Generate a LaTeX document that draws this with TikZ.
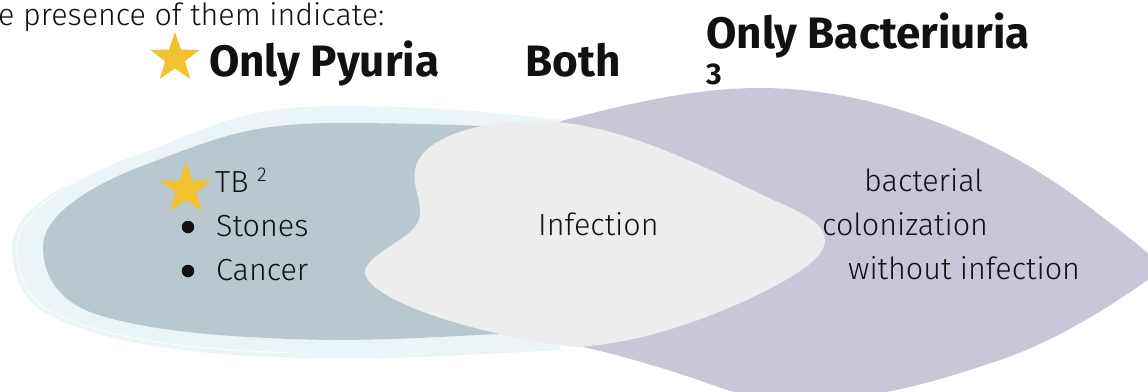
\documentclass[tikz,border=0pt]{standalone}
\usepackage{fontspec}
\setmainfont{Fira Sans Light}[BoldFont=Fira Sans Bold]
\usetikzlibrary{shapes.geometric}
\definecolor{paleblue}{HTML}{EBF4F7}
\definecolor{greyblue}{HTML}{B9C7CE}
\definecolor{lightgrey}{HTML}{EDEDED}
\definecolor{lilac}{HTML}{C8C7D7}
\definecolor{gold}{HTML}{F2C230}
\definecolor{ink}{HTML}{111111}
\tikzset{
  lbl/.style={anchor=base west, inner sep=0pt, text=ink, font=\fontsize{30.5}{36}\selectfont},
  head/.style={anchor=base west, inner sep=0pt, text=ink, font=\fontsize{44}{50}\selectfont\bfseries},
  goldstar/.style={star, star points=5, star point ratio=2.5, fill=gold, draw=none, inner sep=0pt},
  bulletdot/.style={circle, fill=ink, draw=none, inner sep=0pt, minimum size=12.5pt}
}
\begin{document}
\begin{tikzpicture}[x=1pt, y=-1pt]
\useasboundingbox (0,0) rectangle (1148,391);
\begin{scope}
\clip (0,0) rectangle (1148,391);
% purple region (only bacteriuria)
\fill[lilac] (557,122) .. controls (620,106) and (690,88) .. (760,88)
  .. controls (880,88) and (1000,140) .. (1080,200)
  .. controls (1120,230) and (1145,250) .. (1165,268)
  .. controls (1120,300) and (1060,340) .. (1000,360)
  .. controls (940,380) and (880,400) .. (800,400)
  .. controls (760,400) and (740,395) .. (707,383)
  .. controls (670,370) and (620,355) .. (583,347)
  -- (520,250) -- cycle;
% pale outer region (only pyuria)
\fill[paleblue] (12,247) .. controls (12,205) and (80,175) .. (150,150)
  .. controls (220,122) and (250,106) .. (340,106)
  .. controls (420,106) and (500,112) .. (560,120)
  -- (560,350)
  .. controls (450,356) and (380,360) .. (300,358)
  .. controls (180,355) and (90,340) .. (40,310)
  .. controls (20,295) and (12,270) .. (12,247) -- cycle;
\draw[white, line width=0.8pt] (160,146) .. controls (90,170) and (17,205) .. (17,247)
  .. controls (17,272) and (25,295) .. (45,308)
  .. controls (95,337) and (180,350) .. (300,353);
% grey-blue inner region
\fill[greyblue] (43,247) .. controls (43,215) and (90,185) .. (150,163)
  .. controls (220,137) and (250,123) .. (340,123)
  .. controls (420,123) and (480,126) .. (540,128)
  -- (540,332)
  .. controls (450,336) and (400,340) .. (330,340)
  .. controls (220,338) and (140,330) .. (90,312)
  .. controls (55,298) and (43,272) .. (43,247) -- cycle;
% light grey overlap region (both)
\fill[lightgrey] (540,121) .. controls (470,121) and (420,140) .. (415,170)
  .. controls (412,190) and (425,205) .. (418,222)
  .. controls (410,240) and (365,255) .. (365,272)
  .. controls (365,295) and (450,330) .. (573,347)
  .. controls (640,345) and (720,315) .. (773,287)
  .. controls (805,270) and (825,255) .. (825,240)
  .. controls (825,225) and (805,213) .. (773,200)
  .. controls (700,165) and (620,123) .. (540,121) -- cycle;
\end{scope}
% headings
\node[lbl] (intro) at (-2,25) {e presence of them indicate:};
\node[goldstar, minimum size=52pt] (star1) at (175,58) {};
\node[head] (pyuria) at (209,76) {Only Pyuria};
\node[head] (both) at (525,76) {Both};
\node[head] (bact) at (706,48) {Only Bacteriuria};
\node[anchor=base west, inner sep=0pt, text=ink, font=\fontsize{30}{34}\selectfont\bfseries] (three) at (706,84) {3};
% left list
\node[goldstar, minimum size=54pt] (star2) at (186,189) {};
\node[lbl] (tb) at (215,192) {TB \raisebox{11pt}{\fontsize{20}{20}\selectfont 2}};
\node[bulletdot] (b1) at (188,227) {};
\node[lbl] (stones) at (216,236) {Stones};
\node[bulletdot] (b2) at (188,271) {};
\node[lbl] (cancer) at (216,280) {Cancer};
% middle
\node[lbl] (infection) at (538,235) {Infection};
% right
\node[lbl] (l1) at (864,191) {bacterial};
\node[lbl] (l2) at (822,235) {colonization};
\node[lbl] (l3) at (848,279) {without infection};
\end{tikzpicture}
\end{document}
